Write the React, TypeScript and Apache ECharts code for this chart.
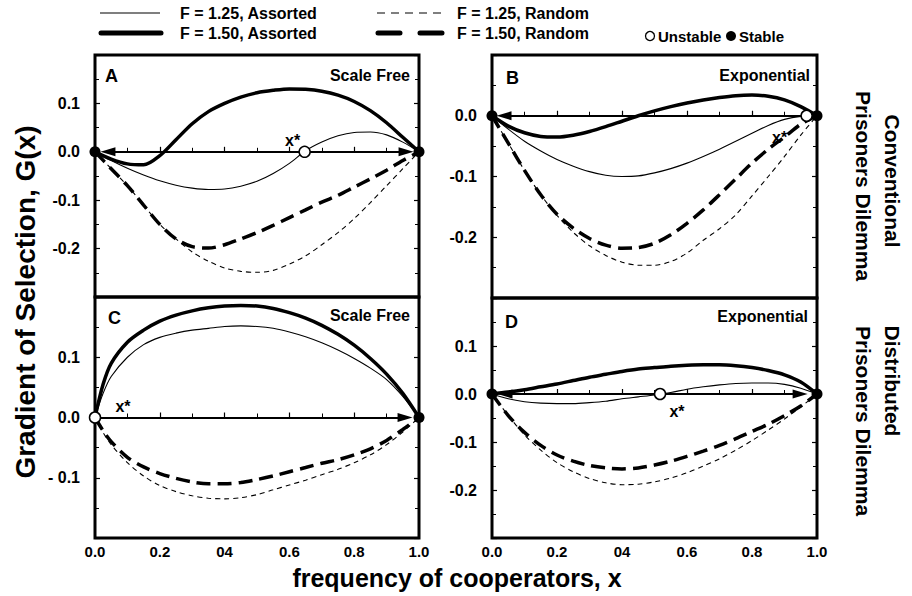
import React, { useEffect, useRef } from 'react';
import * as echarts from 'echarts';

const FONT = '"Liberation Sans", Arial, Helvetica, sans-serif';

// x grid used by the curves
const X = [0, 0.05, 0.1, 0.15, 0.2, 0.25, 0.3, 0.35, 0.4, 0.45, 0.5, 0.55, 0.6, 0.65, 0.7, 0.75, 0.8, 0.85, 0.9, 0.95, 1];
const X_C = [0, 0.025, 0.05, 0.1, 0.15, 0.2, 0.25, 0.3, 0.35, 0.4, 0.45, 0.5, 0.55, 0.6, 0.65, 0.7, 0.75, 0.8, 0.85, 0.9, 0.95, 1];
const X_TICK_LABELS = ['0.0', '0.2', '04', '0.6', '0.8', '1.0'];

// Panel A: Scale Free, Conventional PD
const A_ASS_125 = [0, -0.018, -0.034, -0.048, -0.06, -0.069, -0.075, -0.078, -0.077, -0.071, -0.061, -0.045, -0.024, 0.002, 0.02, 0.033, 0.04, 0.041, 0.035, 0.02, 0];
const A_ASS_150 = [0, -0.015, -0.025, -0.027, -0.008, 0.025, 0.058, 0.083, 0.1, 0.113, 0.122, 0.127, 0.13, 0.129, 0.125, 0.117, 0.104, 0.085, 0.06, 0.03, 0];
const A_RND_125 = [0, -0.035, -0.07, -0.11, -0.15, -0.18, -0.207, -0.226, -0.24, -0.247, -0.249, -0.245, -0.232, -0.215, -0.192, -0.167, -0.138, -0.105, -0.07, -0.035, 0];
const A_RND_150 = [0, -0.035, -0.07, -0.11, -0.15, -0.18, -0.196, -0.199, -0.192, -0.18, -0.167, -0.152, -0.136, -0.12, -0.104, -0.09, -0.073, -0.056, -0.038, -0.018, 0];
const A_STABLE = [0, 1];
const A_UNSTABLE = [0.647];
const A_ARROWS = [[0.647, 0.04], [0.647, 0.96]];

// Panel B: Exponential, Conventional PD
const B_ASS_125 = [0, -0.022, -0.042, -0.058, -0.072, -0.083, -0.092, -0.098, -0.1, -0.099, -0.094, -0.087, -0.078, -0.067, -0.055, -0.042, -0.029, -0.016, -0.006, -0.001, 0];
const B_ASS_150 = [0, -0.017, -0.028, -0.034, -0.035, -0.032, -0.026, -0.018, -0.009, 0, 0.008, 0.015, 0.021, 0.026, 0.03, 0.033, 0.034, 0.032, 0.026, 0.015, 0];
const B_RND_125 = [0, -0.045, -0.09, -0.13, -0.164, -0.192, -0.214, -0.23, -0.241, -0.246, -0.246, -0.24, -0.226, -0.205, -0.186, -0.163, -0.132, -0.1, -0.067, -0.032, 0];
const B_RND_150 = [0, -0.045, -0.09, -0.13, -0.162, -0.185, -0.202, -0.213, -0.218, -0.217, -0.21, -0.196, -0.177, -0.155, -0.13, -0.104, -0.078, -0.055, -0.035, -0.014, 0];
const B_STABLE = [0, 1];
const B_UNSTABLE = [0.968];
const B_ARROWS = [[0.968, 0.037]];

// Panel C: Scale Free, Distributed PD
const C_ASS_125 = [0, 0.04, 0.068, 0.1, 0.121, 0.133, 0.14, 0.145, 0.148, 0.151, 0.152, 0.151, 0.148, 0.142, 0.134, 0.124, 0.112, 0.098, 0.082, 0.063, 0.035, 0];
const C_ASS_150 = [0, 0.055, 0.09, 0.125, 0.145, 0.16, 0.17, 0.177, 0.182, 0.185, 0.186, 0.185, 0.181, 0.174, 0.165, 0.153, 0.138, 0.12, 0.098, 0.072, 0.04, 0];
const C_RND_125 = [0, -0.025, -0.045, -0.075, -0.097, -0.113, -0.123, -0.13, -0.134, -0.135, -0.133, -0.128, -0.12, -0.112, -0.104, -0.095, -0.086, -0.075, -0.062, -0.045, -0.024, 0];
const C_RND_150 = [0, -0.022, -0.04, -0.066, -0.082, -0.093, -0.101, -0.107, -0.11, -0.11, -0.108, -0.103, -0.097, -0.09, -0.083, -0.076, -0.07, -0.062, -0.052, -0.038, -0.02, 0];
const C_STABLE = [1];
const C_UNSTABLE = [0];
const C_ARROWS = [[0, 0.957]];

// Panel D: Exponential, Distributed PD
const D_ASS_125 = [0, -0.01, -0.016, -0.019, -0.02, -0.02, -0.018, -0.015, -0.01, -0.006, -0.002, 0.003, 0.01, 0.015, 0.019, 0.022, 0.023, 0.023, 0.02, 0.012, 0];
const D_ASS_150 = [0, 0.004, 0.009, 0.015, 0.021, 0.028, 0.035, 0.041, 0.047, 0.052, 0.055, 0.058, 0.06, 0.061, 0.061, 0.059, 0.055, 0.049, 0.04, 0.025, 0];
const D_RND_125 = [0, -0.045, -0.085, -0.117, -0.143, -0.162, -0.176, -0.185, -0.189, -0.188, -0.183, -0.175, -0.164, -0.15, -0.135, -0.117, -0.097, -0.075, -0.052, -0.027, 0];
const D_RND_150 = [0, -0.045, -0.08, -0.107, -0.127, -0.14, -0.149, -0.154, -0.156, -0.154, -0.148, -0.14, -0.13, -0.119, -0.107, -0.093, -0.078, -0.063, -0.045, -0.025, 0];
const D_STABLE = [0, 1];
const D_UNSTABLE = [0.517];
const D_ARROWS = [[0.517, 0.04], [0.517, 0.948]];

const CURVE_STYLES: any[] = [
  { width: 1.1, type: 'solid' },
  { width: 3.5, type: 'solid' },
  { width: 1.1, type: [5, 4] },
  { width: 3.5, type: [14, 7] },
];

const PANELS: any[] = [
  {
    grid: { left: 95, top: 55, width: 324, height: 242 }, yMin: -0.3, yMax: 0.2, xs: X,
    curves: [A_ASS_125, A_ASS_150, A_RND_125, A_RND_150], stable: A_STABLE, unstable: A_UNSTABLE, arrows: A_ARROWS,
    starOffset: [-12, -11], showX: false, spaced: false,
  },
  {
    grid: { left: 492, top: 55, width: 325, height: 243 }, yMin: -0.3, yMax: 0.1, xs: X,
    curves: [B_ASS_125, B_ASS_150, B_RND_125, B_RND_150], stable: B_STABLE, unstable: B_UNSTABLE, arrows: B_ARROWS,
    starOffset: [-27, 22], showX: false, spaced: false,
  },
  {
    grid: { left: 95, top: 297, width: 324, height: 241 }, yMin: -0.2, yMax: 0.2, xs: X_C,
    curves: [C_ASS_125, C_ASS_150, C_RND_125, C_RND_150], stable: C_STABLE, unstable: C_UNSTABLE, arrows: C_ARROWS,
    starOffset: [28, -11], showX: true, spaced: true,
  },
  {
    grid: { left: 492, top: 298, width: 325, height: 240 }, yMin: -0.3, yMax: 0.2, xs: X,
    curves: [D_ASS_125, D_ASS_150, D_RND_125, D_RND_150], stable: D_STABLE, unstable: D_UNSTABLE, arrows: D_ARROWS,
    starOffset: [17, 17], showX: true, spaced: false,
  },
];

function text(t: string, x: number, y: number, size: number, align = 'left', rotation = 0): any {
  return {
    type: 'text', x, y, rotation, silent: true,
    style: {
      text: t, x: 0, y: 0, fill: '#000', font: `bold ${size}px ${FONT}`,
      align, verticalAlign: 'middle', textAlign: align, textVerticalAlign: 'middle',
    },
  };
}

function buildOption(): any {
  const grids: any[] = [];
  const xAxes: any[] = [];
  const yAxes: any[] = [];
  const series: any[] = [];

  PANELS.forEach((p, i) => {
    grids.push({ ...p.grid, show: true, borderColor: '#000', borderWidth: 3, backgroundColor: 'transparent', containLabel: false });
    xAxes.push({
      gridIndex: i, type: 'value', min: 0, max: 1, interval: 0.2,
      axisLine: { show: false }, splitLine: { show: false },
      axisTick: { show: true, inside: true, length: 5, lineStyle: { color: '#000', width: 1.2 } },
      minorTick: { show: true, splitNumber: 2, length: 4, lineStyle: { color: '#000', width: 1 } },
      axisLabel: p.showX
        ? { show: true, margin: 6, color: '#000', fontSize: 15, fontWeight: 'bold', fontFamily: FONT,
            formatter: (v: number) => X_TICK_LABELS[Math.round(v / 0.2)] ?? '' }
        : { show: false },
    });
  });
  PANELS.forEach((p, i) => {
    yAxes.push({
      gridIndex: i, type: 'value', min: p.yMin, max: p.yMax, interval: 0.1, position: 'left',
      axisLine: { show: false }, splitLine: { show: false },
      axisTick: { show: true, inside: true, length: 5, lineStyle: { color: '#000', width: 1.2 } },
      minorTick: { show: true, splitNumber: 2, length: 4, lineStyle: { color: '#000', width: 1 } },
      axisLabel: {
        show: true, showMinLabel: false, showMaxLabel: false, margin: 15, color: '#000',
        fontSize: 16, fontWeight: 'bold', fontFamily: FONT,
        formatter: (v: number) => {
          let r = Math.round(v * 10) / 10;
          if (Math.abs(r) < 1e-9) r = 0;
          if (r < 0 && p.spaced) return '- ' + Math.abs(r).toFixed(1);
          return r.toFixed(1);
        },
      },
    });
  });
  PANELS.forEach((p, i) => {
    yAxes.push({
      gridIndex: i, type: 'value', min: p.yMin, max: p.yMax, interval: 0.1, position: 'right',
      axisLine: { show: false }, splitLine: { show: false }, axisLabel: { show: false },
      axisTick: { show: true, inside: true, length: 5, lineStyle: { color: '#000', width: 1.2 } },
      minorTick: { show: true, splitNumber: 2, length: 4, lineStyle: { color: '#000', width: 1 } },
    });
  });

  PANELS.forEach((p, i) => {
    p.curves.forEach((ys: number[], k: number) => {
      series.push({
        type: 'line', xAxisIndex: i, yAxisIndex: i, showSymbol: false, symbol: 'none', smooth: 0.3,
        silent: true, z: 2 + k * 0.1,
        lineStyle: { color: '#000', width: CURVE_STYLES[k].width, type: CURVE_STYLES[k].type, cap: 'butt', opacity: 1 },
        data: p.xs.map((x: number, j: number) => [x, ys[j]]),
      });
    });
    series.push({
      type: 'scatter', xAxisIndex: i, yAxisIndex: i, clip: false, silent: true, z: 5,
      symbol: 'circle', symbolSize: 11, itemStyle: { color: '#000', opacity: 1 },
      data: p.stable.map((x: number) => [x, 0]),
      markLine: {
        silent: true, animation: false, label: { show: false },
        lineStyle: { color: '#000', width: 2, type: 'solid', opacity: 1 },
        emphasis: { disabled: true },
        data: p.arrows.map((a: number[]) => [
          { coord: [a[0], 0], symbol: 'none' },
          { coord: [a[1], 0], symbol: 'triangle', symbolSize: [9, 15] },
        ]),
      },
    });
    series.push({
      type: 'scatter', xAxisIndex: i, yAxisIndex: i, clip: false, silent: true, z: 6,
      symbol: 'circle', symbolSize: 11,
      itemStyle: { color: '#fff', borderColor: '#000', borderWidth: 1.5, opacity: 1 },
      label: {
        show: true, formatter: 'x*', position: 'inside', offset: p.starOffset,
        color: '#000', fontSize: 16, fontWeight: 'bold', fontFamily: FONT, textBorderWidth: 0,
      },
      data: p.unstable.map((x: number) => [x, 0]),
    });
  });

  const graphic: any[] = [
    // legend
    { type: 'line', silent: true, shape: { x1: 100, y1: 13, x2: 160, y2: 13 }, style: { stroke: '#000', lineWidth: 1.2 } },
    { type: 'line', silent: true, shape: { x1: 101, y1: 33, x2: 161, y2: 33 }, style: { stroke: '#000', lineWidth: 5, lineCap: 'round' } },
    { type: 'line', silent: true, shape: { x1: 377, y1: 13, x2: 441, y2: 13 }, style: { stroke: '#000', lineWidth: 1.2, lineDash: [8, 6] } },
    { type: 'line', silent: true, shape: { x1: 378, y1: 33, x2: 442, y2: 33 }, style: { stroke: '#000', lineWidth: 5, lineDash: [22, 20], lineCap: 'round' } },
    text('F = 1.25, Assorted', 180, 13, 16),
    text('F = 1.50, Assorted', 180, 33, 16),
    text('F = 1.25, Random', 457, 13, 16),
    text('F = 1.50, Random', 457, 33, 16),
    { type: 'circle', silent: true, shape: { cx: 650, cy: 36, r: 4.5 }, style: { fill: '#fff', stroke: '#000', lineWidth: 1.3 } },
    text('Unstable', 658, 36, 15),
    { type: 'circle', silent: true, shape: { cx: 731, cy: 36, r: 5 }, style: { fill: '#000' } },
    text('Stable', 739, 36, 15),
    // panel labels
    text('A', 105, 76, 18),
    text('Scale Free', 410, 75, 16, 'right'),
    text('B', 506, 78, 18),
    text('Exponential', 810, 75, 16, 'right'),
    text('C', 108, 318, 18),
    text('Scale Free', 410, 315, 16, 'right'),
    text('D', 505, 322, 18),
    text('Exponential', 808, 316, 16, 'right'),
    // axis titles
    text('Gradient of Selection, G(x)', 25, 302, 28, 'center', Math.PI / 2),
    text('frequency of cooperators, x', 457, 578, 25, 'center'),
    // row titles (read top to bottom)
    text('Conventional', 892, 181, 21, 'center', -Math.PI / 2),
    text('Prisoners Dilemma', 863, 186, 21, 'center', -Math.PI / 2),
    text('Distributed', 892, 381, 21, 'center', -Math.PI / 2),
    text('Prisoners Dilemma', 863, 421, 21, 'center', -Math.PI / 2),
  ];

  return {
    animation: false,
    backgroundColor: '#fff',
    textStyle: { fontFamily: FONT },
    grid: grids,
    xAxis: xAxes,
    yAxis: yAxes,
    series,
    graphic,
  };
}

export default function App() {
  const ref = useRef<HTMLDivElement>(null);
  useEffect(() => {
    const chart = echarts.init(ref.current!, undefined, { renderer: 'svg' });
    chart.setOption(buildOption());
    return () => chart.dispose();
  }, []);
  return (
    <div
      ref={ref}
      style={{ position: 'absolute', left: 0, top: 0, width: 912, height: 596, background: '#fff' }}
    />
  );
}
